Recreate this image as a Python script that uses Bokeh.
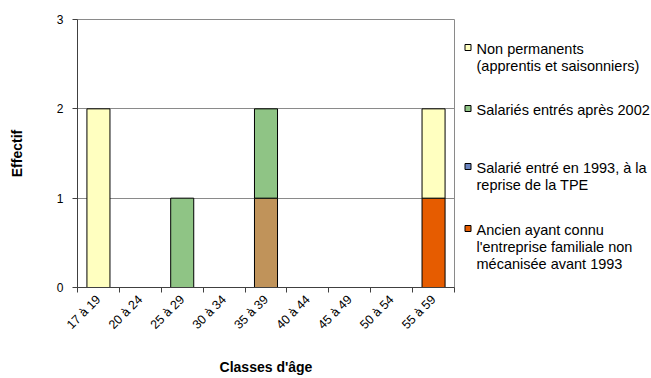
import math
from bokeh.plotting import figure
from bokeh.layouts import row
from bokeh.models import Range1d, FixedTicker, ColumnDataSource, CDSView, IndexFilter
from bokeh.core.properties import value
from bokeh.embed import file_html
from bokeh.resources import INLINE

# ---- data ----
categories = ["17 à 19", "20 à 24", "25 à 29", "30 à 34", "35 à 39",
              "40 à 44", "45 à 49", "50 à 54", "55 à 59"]
ancien = [0, 0, 0, 0, 0, 0, 0, 0, 1]
autre = [0, 0, 0, 0, 1, 0, 0, 0, 0]          # tan segment, not in legend
salarie_1993 = [0, 0, 0, 0, 0, 0, 0, 0, 0]
salaries_2002 = [0, 0, 1, 0, 1, 0, 0, 0, 0]
non_permanents = [2, 0, 0, 0, 0, 0, 0, 0, 1]
y_ticks = [0, 1, 2, 3]

labels = {
    "ancien": ["Ancien ayant connu", "l'entreprise familiale non", "mécanisée avant 1993"],
    "s1993": ["Salarié entré en 1993, à la", "reprise de la TPE"],
    "s2002": ["Salariés entrés après 2002"],
    "np": ["Non permanents", "(apprentis et saisonniers)"],
}
colors = {
    "ancien": "#E65C00",
    "autre": "#C0935A",
    "s1993": "#6A84C0",
    "s2002": "#8FC485",
    "np": "#FFFFC0",
}
# stacking order, bottom to top
series = [("ancien", ancien), ("autre", autre), ("s1993", salarie_1993),
          ("s2002", salaries_2002), ("np", non_permanents)]
legend_order = ["np", "s2002", "s1993", "ancien"]

FONT = "Liberation Sans"
TOP, BOTTOM = 19, 91

# ---- main chart ----
p = figure(width=460, height=378, x_range=Range1d(0, len(categories)),
           y_range=Range1d(0, 3), output_backend="svg", toolbar_location=None,
           min_border_left=77, min_border_right=6, min_border_top=TOP,
           min_border_bottom=BOTTOM)
p.background_fill_color = "white"
p.border_fill_color = "white"
p.outline_line_color = "#8a8a8a"

bottoms = [0] * len(categories)
for key, vals in series:
    xs = [i + 0.5 for i in range(len(categories))]
    bots = list(bottoms)
    tops = [b + v for b, v in zip(bottoms, vals)]
    bottoms = tops
    src = ColumnDataSource(dict(x=xs, bottom=bots, top=tops))
    view = CDSView(filter=IndexFilter([i for i, v in enumerate(vals) if v > 0]))
    p.vbar(x="x", bottom="bottom", top="top", width=0.55, source=src, view=view,
           fill_color=colors[key], line_color="black", line_width=1)

p.xgrid.visible = False
p.ygrid.grid_line_color = "#8a8a8a"
p.ygrid.ticker = FixedTicker(ticks=y_ticks)

ya = p.yaxis[0]
ya.ticker = FixedTicker(ticks=y_ticks)
ya.axis_line_color = "#404040"
ya.major_tick_line_color = "#404040"
ya.major_tick_out = 5
ya.major_tick_in = 0
ya.minor_tick_line_color = None
ya.major_label_standoff = 9
ya.major_label_text_font = FONT
ya.major_label_text_font_size = "12px"
ya.major_label_text_color = "black"
ya.axis_label = "Effectif"
ya.axis_label_text_font = FONT
ya.axis_label_text_font_size = "14px"
ya.axis_label_text_font_style = "bold"
ya.axis_label_text_color = "black"
ya.axis_label_standoff = 29

xa = p.xaxis[0]
centers = [i + 0.5 for i in range(len(categories))]
bounds = list(range(len(categories) + 1))
xa.ticker = FixedTicker(ticks=centers, minor_ticks=bounds)
xa.major_label_overrides = {c: lab for c, lab in zip(centers, categories)}
xa.major_label_orientation = math.pi / 4
xa.major_tick_out = 0
xa.major_tick_in = 0
xa.minor_tick_out = 5
xa.minor_tick_in = 0
xa.minor_tick_line_color = "#404040"
xa.axis_line_color = "#404040"
xa.major_label_standoff = 5
xa.major_label_text_font = FONT
xa.major_label_text_font_size = "12.5px"
xa.major_label_text_color = "black"
xa.axis_label = "Classes d'âge"
xa.axis_label_text_font = FONT
xa.axis_label_text_font_size = "14px"
xa.axis_label_text_font_style = "bold"
xa.axis_label_text_color = "black"
xa.axis_label_standoff = 19

# ---- legend panel (pixel-space figure, frame aligned with the chart) ----
LW, LH = 191, 378
first_line_y = [48, 109, 167, 229]   # layout positions of each legend entry
line_step = 17
sw_x, txt_x = 7.5, 16

lg = figure(width=LW, height=LH, x_range=Range1d(0, LW),
            y_range=Range1d(LH - BOTTOM, TOP),
            output_backend="svg", toolbar_location=None,
            min_border_left=0, min_border_right=0,
            min_border_top=TOP, min_border_bottom=BOTTOM,
            x_axis_type=None, y_axis_type=None)
lg.outline_line_color = None
lg.background_fill_color = "white"
lg.border_fill_color = "white"

sw_y, sw_c, tx, ty, tt = [], [], [], [], []
for key, y0 in zip(legend_order, first_line_y):
    sw_y.append(y0 - 1)
    sw_c.append(colors[key])
    for j, line in enumerate(labels[key]):
        tx.append(txt_x)
        ty.append(y0 + j * line_step)
        tt.append(line)

lg.rect(x=[sw_x] * len(sw_y), y=sw_y, width=6, height=6, fill_color=sw_c,
        line_color="black", line_width=1)
lg.text(x=tx, y=ty, text=tt, text_font=value(FONT), text_font_size="14.5px",
        text_baseline="middle", text_align="left", text_color="black")

layout = row(p, lg)
open("out.html", "w").write(file_html(layout, INLINE))
